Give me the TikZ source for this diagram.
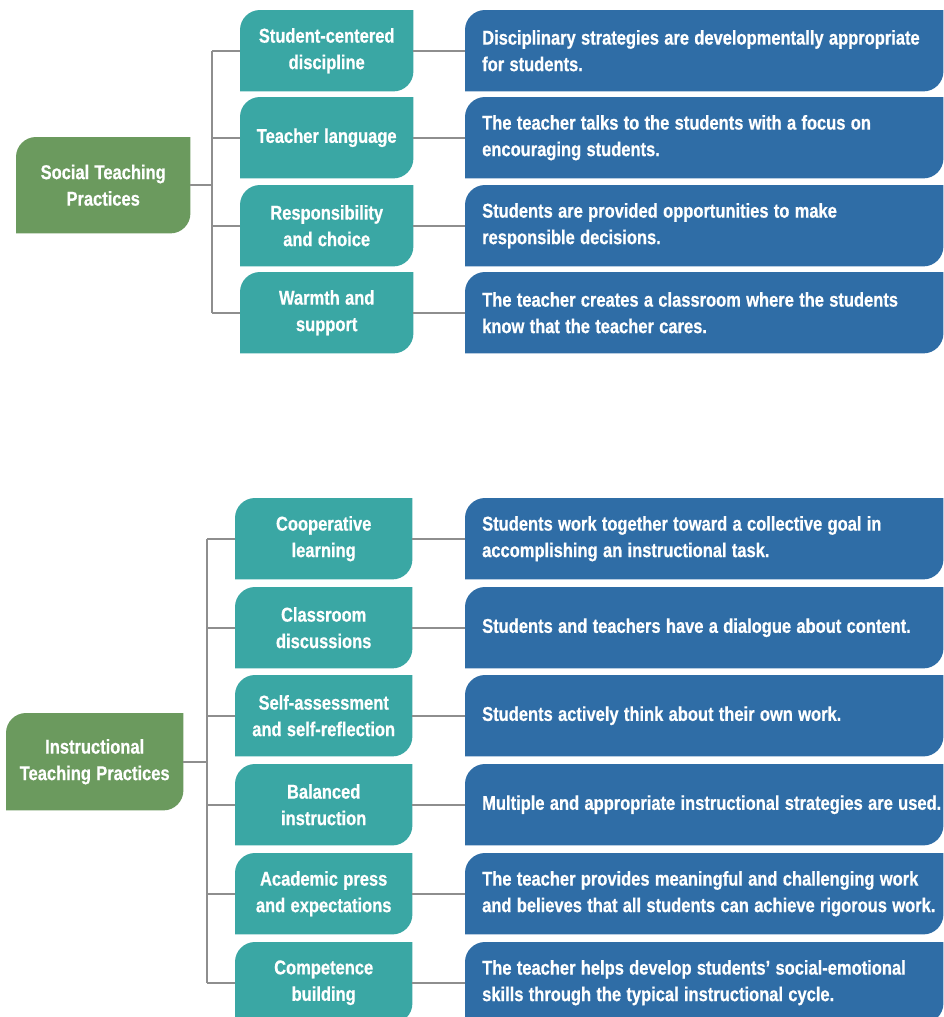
\documentclass[tikz,border=0pt]{standalone}
\usepackage{fontspec}
\setmainfont{Liberation Sans}[FakeStretch=0.825, BoldFeatures={FakeBold=0.6}]
\usetikzlibrary{backgrounds}

\definecolor{groupgreen}{HTML}{6B9A5E}
\definecolor{practeal}{HTML}{3AA7A4}
\definecolor{descblue}{HTML}{2F6DA6}
\definecolor{linkgray}{HTML}{8E8E8E}

% fill a node's outline with rounded top-left and bottom-right corners
\newcommand\tabfill[2]{%
  \fill[#2] ([yshift=-20pt]#1.north west) arc[start angle=180,end angle=90,radius=20pt]
    -- (#1.north east) -- ([yshift=20pt]#1.south east)
    arc[start angle=0,end angle=-90,radius=20pt] -- (#1.south west) -- cycle;}

\newskip\tightspace
\tightspace=5.3pt plus 1pt minus 0.5pt

\tikzset{
  boxtext/.style={text=white,
    font=\bfseries\fontsize{20}{26.5}\selectfont,
    execute at begin node={\spaceskip=\tightspace},
    anchor=north west, inner sep=0pt},
  groupbox/.style={boxtext, align=center, minimum width=#1},
  practicebox/.style={boxtext, align=center, minimum width=#1, minimum height=81pt},
  descbox/.style={boxtext, align=left, inner xsep=17pt, text width=444pt,
    minimum height=81pt},
  link/.style={draw=linkgray, line width=2pt},
}

\begin{document}
\begin{tikzpicture}[x=1pt,y=1pt]
\clip (0,0) rectangle (943,-1017);
\useasboundingbox (0,0) rectangle (943,-1017);

% ---------- Social teaching practices ----------
\node[groupbox=174pt, minimum height=96pt] (soc) at (16,-137) {Social Teaching\\Practices};

\node[practicebox=173pt] (s1) at (240,-10)  {Student-centered\\discipline};
\node[practicebox=173pt] (s2) at (240,-97)  {Teacher language};
\node[practicebox=173pt] (s3) at (240,-185) {Responsibility\\and choice};
\node[practicebox=173pt] (s4) at (240,-272) {Warmth and\\support};

\node[descbox] (d1) at (465,-10)  {\mbox{Disciplinary strategies are developmentally appropriate}\\for students.};
\node[descbox] (d2) at (465,-97)  {\mbox{The teacher talks to the students with a focus on}\\encouraging students.};
\node[descbox] (d3) at (465,-185) {\mbox{Students are provided opportunities to make}\\responsible decisions.};
\node[descbox] (d4) at (465,-272) {\mbox{The teacher creates a classroom where the students}\\know that the teacher cares.};

\coordinate (busS) at (212,0);

% ---------- Instructional teaching practices ----------
\node[groupbox=177pt, minimum height=97pt] (ins) at (6,-713) {Instructional\\Teaching Practices};

\node[practicebox=177pt] (i1) at (235,-498) {Cooperative\\learning};
\node[practicebox=177pt] (i2) at (235,-587) {Classroom\\discussions};
\node[practicebox=177pt] (i3) at (235,-675) {Self-assessment\\and self-reflection};
\node[practicebox=177pt] (i4) at (235,-764) {Balanced\\instruction};
\node[practicebox=177pt] (i5) at (235,-853) {Academic press\\and expectations};
\node[practicebox=177pt] (i6) at (235,-942) {Competence\\building};

\node[descbox] (e1) at (465,-498) {\mbox{Students work together toward a collective goal in}\\accomplishing an instructional task.};
\node[descbox] (e2) at (465,-587) {\mbox{Students and teachers have a dialogue about content.}};
\node[descbox] (e3) at (465,-675) {\mbox{Students actively think about their own work.}};
\node[descbox] (e4) at (465,-764) {\mbox{Multiple and appropriate instructional strategies are used.}};
\node[descbox] (e5) at (465,-853) {\mbox{The teacher provides meaningful and challenging work}\\\mbox{and believes that all students can achieve rigorous work.}};
\node[descbox] (e6) at (465,-942) {\mbox{The teacher helps develop students’ social-emotional}\\skills through the typical instructional cycle.};

\coordinate (busI) at (207,0);

% ---------- box fills ----------
\begin{pgfonlayer}{background}
  \tabfill{soc}{groupgreen}
  \tabfill{ins}{groupgreen}
  \foreach \n in {s1,s2,s3,s4,i1,i2,i3,i4,i5,i6} {\tabfill{\n}{practeal}}
  \foreach \n in {d1,d2,d3,d4,e1,e2,e3,e4,e5,e6} {\tabfill{\n}{descblue}}

  % ---------- connectors ----------
  \draw[link] (soc.east) -- (soc.east -| busS);
  \draw[link] (s1.west -| busS) -- (s4.west -| busS);
  \foreach \n/\m in {s1/d1,s2/d2,s3/d3,s4/d4} {
    \draw[link] (\n.west -| busS) -- (\n.west);
    \draw[link] (\n.east) -- (\m.west);
  }
  \draw[link] (ins.east) -- (ins.east -| busI);
  \draw[link] (i1.west -| busI) -- (i6.west -| busI);
  \foreach \n/\m in {i1/e1,i2/e2,i3/e3,i4/e4,i5/e5,i6/e6} {
    \draw[link] (\n.west -| busI) -- (\n.west);
    \draw[link] (\n.east) -- (\m.west);
  }
\end{pgfonlayer}
\end{tikzpicture}
\end{document}
